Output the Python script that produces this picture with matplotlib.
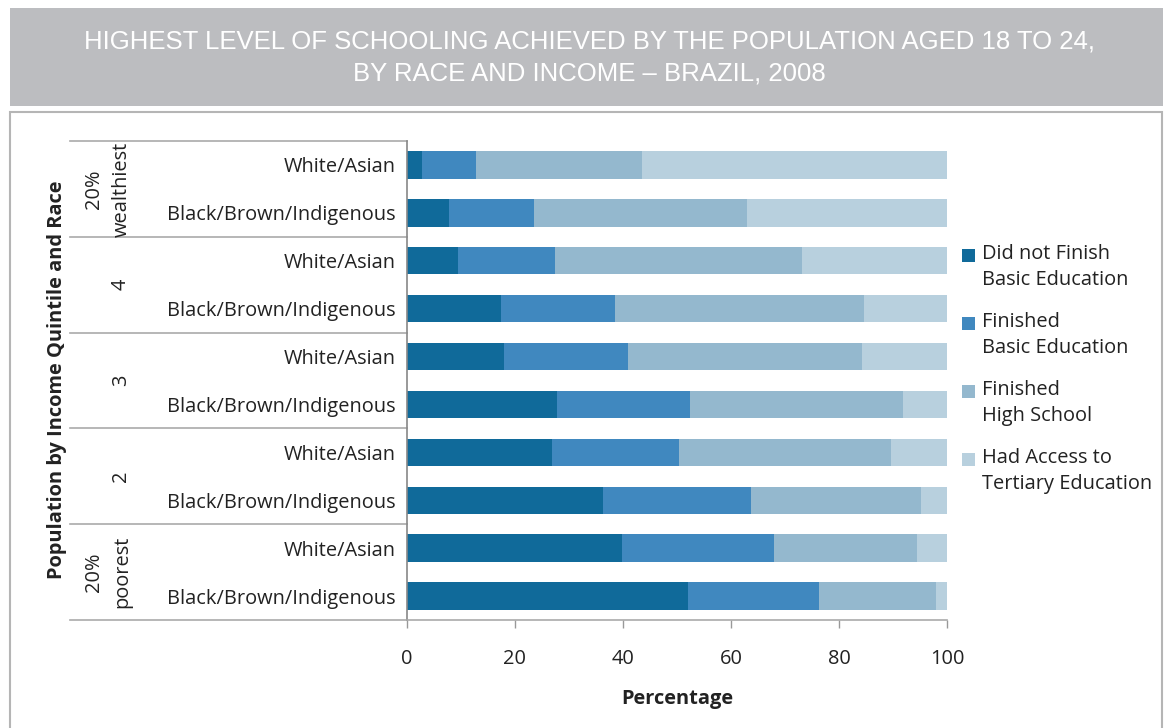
import matplotlib
matplotlib.use("Agg")
import matplotlib.pyplot as plt
from matplotlib.patches import Rectangle
import matplotlib.transforms as mtransforms
import numpy as np

# ---- data ----
row_labels = ["White/Asian", "Black/Brown/Indigenous"] * 5
group_labels = ["20%\nwealthiest", "4", "3", "2", "20%\npoorest"]
series_names = ["Did not Finish\nBasic Education", "Finished\nBasic Education",
                "Finished\nHigh School", "Had Access to\nTertiary Education"]
did_not_finish_basic = [2.8, 7.7, 9.4, 17.4, 17.9, 27.8, 26.9, 36.3, 39.8, 52.0]
finished_basic = [10.0, 15.8, 18.0, 21.1, 23.1, 24.6, 23.5, 27.4, 28.2, 24.3]
finished_high_school = [30.8, 39.4, 45.7, 46.2, 43.3, 39.5, 39.3, 31.5, 26.5, 21.7]
tertiary = [56.4, 37.1, 26.9, 15.3, 15.7, 8.1, 10.3, 4.8, 5.5, 2.0]
x_ticks = [0, 20, 40, 60, 80, 100]

colors = ["#106a9a", "#4088bf", "#94b8ce", "#b8d0de"]

W, H = 1166, 728
fig = plt.figure(figsize=(W / 100, H / 100), dpi=100)
fig.patch.set_facecolor("white")

def fx(px):
    return px / W

def fy(py):
    return 1 - py / H

# title box
fig.patches.append(Rectangle((fx(10), fy(106)), fx(1153), (98) / H, transform=fig.transFigure,
                             facecolor="#bcbdc0", edgecolor="none", zorder=-2))
# lower panel
fig.patches.append(Rectangle((fx(10), fy(740)), fx(1152), (740 - 112) / H, transform=fig.transFigure,
                             facecolor="white", edgecolor="#b5b5b5", linewidth=1.5, zorder=-2))

title_font = ["Liberation Sans Narrow", "Liberation Sans", "DejaVu Sans"]
fig.text(fx(589), fy(41), "HIGHEST LEVEL OF SCHOOLING ACHIEVED BY THE POPULATION AGED 18 TO 24,",
         ha="center", va="center", color="white", fontsize=18.5, family=title_font)
fig.text(fx(589), fy(74), "BY RACE AND INCOME \u2013 BRAZIL, 2008",
         ha="center", va="center", color="white", fontsize=18.5, family=title_font)

font = ["Open Sans", "DejaVu Sans"]
plt.rcParams["font.family"] = font
FS = 14.4

ax = fig.add_axes([fx(407), fy(620), (947 - 407) / W, (620 - 141) / H])
ax.set_zorder(2)
ax.patch.set_alpha(0)
y = np.arange(len(row_labels))
left = np.zeros(len(row_labels))
for vals, c in zip([did_not_finish_basic, finished_basic, finished_high_school, tertiary], colors):
    ax.barh(y, vals, left=left, color=c, height=0.57, edgecolor="none")
    left += np.array(vals)

ax.set_xlim(0, 100)
ax.set_ylim(9.5, -0.5)
ax.set_yticks(y)
ax.set_yticklabels(row_labels, fontsize=FS, color="#222222")
ax.tick_params(axis="y", length=0, pad=8)
ax.set_xticks(x_ticks)
ax.set_xticklabels([str(t) for t in x_ticks], fontsize=FS, color="#222222")
ax.tick_params(axis="x", length=6, width=1, color="#999999", pad=15, direction="out")
for s in ["top", "right"]:
    ax.spines[s].set_visible(False)
ax.spines["left"].set_color("#888888")
ax.spines["bottom"].set_color("#aaaaaa")
ax.spines["left"].set_linewidth(1.2)
ax.spines["bottom"].set_linewidth(1.2)
ax.set_xlabel("Percentage", fontsize=FS, fontweight="bold", labelpad=14, color="#222222")

# group divider lines
trans = mtransforms.blended_transform_factory(ax.transAxes, ax.transData)
x0 = (70 - 407) / 540
for yy in [-0.5, 1.5, 3.5, 5.5, 7.5, 9.5]:
    ax.plot([x0, 0], [yy, yy], transform=trans, color="#aaaaaa", lw=1.2, clip_on=False)

# group labels
group_x = [108, 121, 121, 121, 108]
for i, (g, gx) in enumerate(zip(group_labels, group_x)):
    ax.text((gx - 407) / 540, 2 * i + 0.5, g, transform=trans, rotation=90,
            ha="center", va="center", fontsize=FS, color="#222222", linespacing=1.5)

fig.text(fx(57), fy(380), "Population by Income Quintile and Race", rotation=90,
         ha="center", va="center", fontsize=FS, fontweight="bold", color="#222222")

# legend
leg_y = [255, 323, 391, 459]
for name, c, ly in zip(series_names, colors, leg_y):
    fig.patches.append(Rectangle((fx(962), fy(ly + 7)), 13 / W, 13 / H, transform=fig.transFigure,
                                 facecolor=c, edgecolor="none"))
    fig.text(fx(982), fy(ly - 11), name, ha="left", va="top", fontsize=FS,
             color="#222222", linespacing=1.4)

fig.savefig("out.png", dpi=100)
